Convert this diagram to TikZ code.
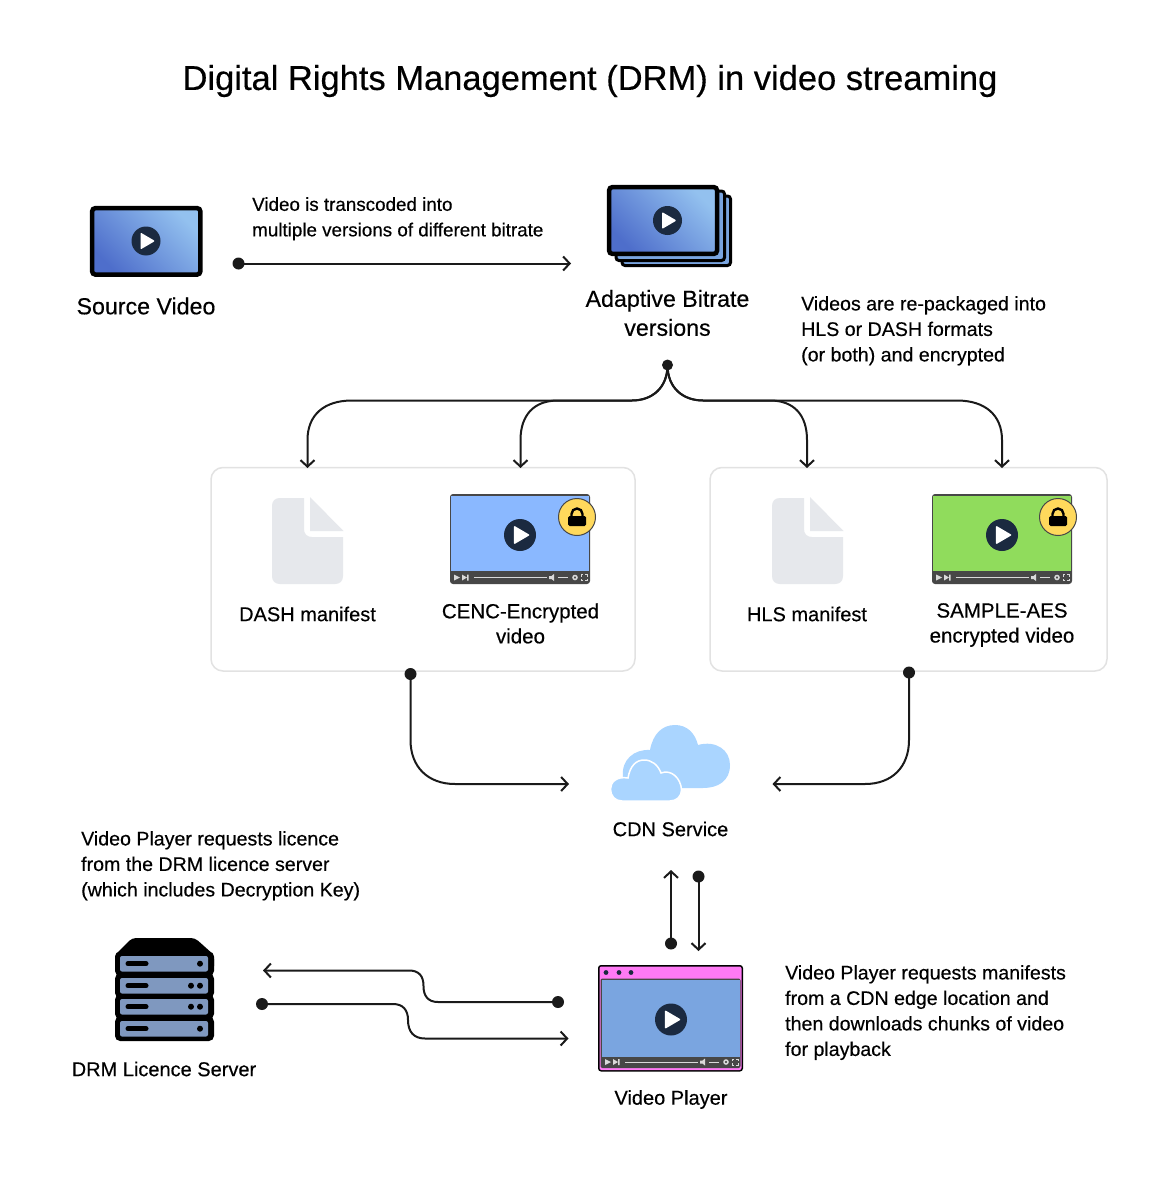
\documentclass[tikz,border=0pt]{standalone}
\usepackage{fontspec}
\setmainfont{Liberation Sans}[RawFeature={embolden=0.35}]
\usetikzlibrary{arrows.meta}
\definecolor{ink}{HTML}{1A1A1A}
\definecolor{playc}{HTML}{1B2A40}
\definecolor{gradlo}{HTML}{4E6ECB}
\definecolor{gradhi}{HTML}{93C1EF}
\definecolor{boxline}{HTML}{E2E2E2}
\definecolor{docgrey}{HTML}{E6E8EC}
\definecolor{cencblue}{HTML}{8AB8FF}
\definecolor{aesgreen}{HTML}{90DC5C}
\definecolor{barc}{HTML}{474747}
\definecolor{lockc}{HTML}{FFD95C}
\definecolor{cloudc}{HTML}{AAD5FF}
\definecolor{pinkc}{HTML}{FF7AF5}
\definecolor{playerblue}{HTML}{7AA5E0}
\definecolor{serverc}{HTML}{7F98BF}
\newcommand{\lbl}{\fontsize{23.2}{29}\selectfont}
\newcommand{\lblb}{\fontsize{20.5}{25}\selectfont}
\newcommand{\sml}{\fontsize{20}{25.6}\selectfont}
\newcommand{\nts}{\fontsize{19.6}{25.5}\selectfont}
\newcommand{\ntsb}{\fontsize{18.8}{25.5}\selectfont}
\newcommand{\ttl}{\fontsize{34.5}{40}\selectfont}
\tikzset{
  x=1pt,y=-1pt,
  flow/.style={draw=ink,line width=2pt,-{Straight Barb[length=6.5pt,width=14pt,line width=2pt]}},
  dotnode/.style={circle,fill=ink,inner sep=0pt,minimum size=12pt},
  label/.style={inner sep=0pt,align=center,text=black},
  note/.style={inner sep=0pt,align=left,anchor=north west,text=black},
  grad/.style={bottom color=gradlo,top color=gradhi,shading angle=-45},
  panel/.style={draw=boxline,line width=1.5pt,rounded corners=12pt,fill=white},
}
\newcommand{\playbtn}[3]{%
  \fill[playc] (#1,#2) circle[radius=#3];
  \begin{scope}[shift={(#1,#2)},scale=#3/14.5]
    \fill[white,rounded corners=1pt] (-5.5,-8.5) -- (9,0) -- (-5.5,8.5) -- cycle;
  \end{scope}}
\newcommand{\controls}[2]{%
  \begin{scope}[shift={(#1,#2)}]
    \fill[white!85!black] (4,-3) -- (10,0) -- (4,3) -- cycle;
    \fill[white!85!black] (12,-3) -- (17,0) -- (12,3) -- cycle (17,-3) rectangle (18.5,3);
    \draw[white!85!black,line width=1pt] (24,0) -- (97,0);
    \fill[white!85!black] (99,-1.5) -- (101.5,-1.5) -- (104,-3.5) -- (104,3.5) -- (101.5,1.5) -- (99,1.5) -- cycle;
    \draw[white!85!black,line width=1pt] (108,0) -- (118,0);
    \draw[white!85!black,line width=1.5pt] (125,0) circle[radius=2];
    \draw[white!85!black,line width=.7pt] (131,-1) -- (131,-3) -- (133,-3) (135,-3) -- (137,-3) -- (137,-1) (137,1) -- (137,3) -- (135,3) (133,3) -- (131,3) -- (131,1);
  \end{scope}}
\newcommand{\lockbadge}[2]{%
  \fill[lockc,draw=barc,line width=1pt] (#1,#2) circle[radius=18.5];
  \begin{scope}[shift={(#1,#2)}]
    \draw[black,line width=2.4pt] (-5.5,0) -- (-5.5,-3) arc[start angle=180,end angle=360,radius=5.5] -- (5.5,0);
    \fill[black,rounded corners=1.5pt] (-9,-1) rectangle (9,9);
  \end{scope}}
\newcommand{\encvideo}[3]{%
  \fill[barc,rounded corners=3pt] (#1,494) rectangle ++(140,90);
  \fill[#2] (#1+1.2,495.5) rectangle ++(137.6,75);
  \controls{#1}{577.5}
  \playbtn{#1+70}{535}{16}
  \lockbadge{#1+#3}{517}}
\newcommand{\docicon}[1]{%
  \begin{scope}[shift={(#1,0)}]
    \fill[docgrey] (280,498) -- (304,498) -- (304,529) .. controls (304,534) and (307,537) .. (312,537)
      -- (343,537) -- (343,576) .. controls (343,581) and (340,584) .. (335,584)
      -- (280,584) .. controls (275,584) and (272,581) .. (272,576)
      -- (272,506) .. controls (272,501) and (275,498) .. (280,498) -- cycle;
    \fill[docgrey] (310,497) -- (343.5,531) -- (310,531) -- cycle;
  \end{scope}}
\newcommand{\serverunit}[2]{%
  \fill[black,rounded corners=5pt] (115,#1-4.5) rectangle (214,#1+20);
  \fill[serverc,rounded corners=2pt] (120,#1) rectangle (208,#1+15.5);
  \draw[black,line width=5pt,line cap=round] (128,#1+7.7) -- (146,#1+7.7);
  \ifnum#2=2 \fill[black] (191,#1+7.7) circle[radius=3]; \fi
  \fill[black] (200,#1+7.7) circle[radius=3];}
\begin{document}
\begin{tikzpicture}
\useasboundingbox (0,0) rectangle (1163,1196);
\fill[white] (0,0) rectangle (1163,1196);

\node[label,font=\ttl] (title) at (590,81) {Digital Rights Management (DRM) in video streaming};

% panels
\path[panel] (211,467.5) rectangle (635,671);
\path[panel] (710,467.5) rectangle (1107,671);

% source video
\path[draw=black,line width=4.5pt,rounded corners=3pt,grad] (92.2,208.2) rectangle (200.3,274.5);
\playbtn{146}{241}{14.5}
\node[label,font=\lbl] (source) at (146,306) {Source Video};

% adaptive bitrate stack
\path[draw=black,line width=3pt,rounded corners=3pt,fill=playerblue] (622,196) rectangle (730.5,265.5);
\path[draw=black,line width=3pt,rounded corners=3pt,fill=playerblue] (616,191) rectangle (724.5,260.5);
\path[draw=black,line width=4.5pt,rounded corners=3pt,grad] (609.2,187.2) rectangle (717,253.8);
\playbtn{667.5}{220.5}{14.5}
\node[label,font=\lbl] (abr) at (667.5,313) {Adaptive Bitrate\\versions};

% notes
\node[note,font=\ntsb] (n1) at (252,197) {Video is transcoded into\\multiple versions of different bitrate};
\node[note,font=\nts] (n2) at (801,296) {Videos are re-packaged into\\HLS or DASH formats\\(or both) and encrypted};
\node[note,font=\nts] (n3) at (81,831) {Video Player requests licence\\from the DRM licence server\\(which includes Decryption Key)};
\node[note,font=\nts] (n4) at (785,965) {Video Player requests manifests\\from a CDN edge location and\\then downloads chunks of video\\for playback};

% packaged content
\docicon{0}
\docicon{500}
\encvideo{450}{cencblue}{127}
\encvideo{932}{aesgreen}{126}
\node[label,font=\sml] (dashl) at (307.5,614) {DASH manifest};
\node[label,font=\sml] (hlsl) at (807,614) {HLS manifest};
\node[label,font=\lblb] (cencl) at (520.5,623.5) {CENC-Encrypted\\video};
\node[label,font=\lblb] (aesl) at (1002,625) {SAMPLE-AES\\encrypted video};

% cloud
\fill[cloudc] (623,777) .. controls (621,760) and (634,749) .. (650,750)
  .. controls (653,734) and (662,725) .. (675,725)
  .. controls (687,725) and (695,733) .. (698,745)
  .. controls (716,740) and (730,750) .. (730,765)
  .. controls (730,781) and (718,788) .. (703,788) -- (670,788) -- cycle;
\fill[cloudc,draw=white,line width=1.5pt] (628,778) .. controls (630,766) and (636,760) .. (644,760)
  .. controls (652,760) and (658,765) .. (661,773)
  .. controls (671,769) and (681,778) .. (681.5,790)
  .. controls (681.5,796) and (677,801) .. (670,801) -- (622,801)
  .. controls (615,801) and (610.5,796) .. (610.5,789)
  .. controls (610.5,782) and (617,776) .. (628,778) -- cycle;
\node[label,font=\sml] (cdn) at (670.5,829) {CDN Service};

% player
\fill[black,rounded corners=3pt] (598,965) rectangle (743,1071.5);
\fill[pinkc,rounded corners=2pt] (599.5,966.5) rectangle (741.5,1070);
\fill[barc,rounded corners=2pt] (600.5,978.5) rectangle (740.5,1068);
\fill[playerblue] (601.5,980) rectangle (739.5,1056.5);
\fill[playc] (606,972.5) circle[radius=2.4] (619,972.5) circle[radius=2.4] (631,972.5) circle[radius=2.4];
\controls{601}{1062}
\playbtn{671}{1019.5}{16}
\node[label,font=\sml] (player) at (671,1099.5) {Video Player};

% server
\fill[black,rounded corners=4pt] (132,938) -- (195,938) -- (214,955) -- (214,970) -- (115,970) -- (115,955) -- cycle;
\serverunit{956}{1}
\serverunit{978}{2}
\serverunit{999}{2}
\serverunit{1021}{1}
\node[label,font=\sml] (drm) at (164,1069) {DRM Licence Server};

% connector ends
\node[dotnode] (d1) at (238.5,263.5) {};
\coordinate (a1) at (571,263.5);
\node[dotnode,minimum size=11pt] (d2) at (667.5,365) {};
\coordinate (a2) at (307.5,468);
\coordinate (a3) at (520.5,468);
\coordinate (a4) at (807,468);
\coordinate (a5) at (1002,468);
\node[dotnode] (d3) at (410.5,674) {};
\coordinate (a6) at (569,784);
\node[dotnode] (d4) at (909,672.5) {};
\coordinate (a7) at (772.5,784);
\node[dotnode] (d5) at (671,943.5) {};
\coordinate (a8) at (671,870);
\node[dotnode] (d6) at (698.5,876.5) {};
\coordinate (a9) at (698.5,951);
\node[dotnode] (d7) at (558,1002) {};
\coordinate (a10) at (263,970.5);
\node[dotnode] (d8) at (262,1004) {};
\coordinate (a11) at (568.5,1038.5);

% connectors
\draw[flow] (d1.center) -- (a1);
\draw[flow] (d2.center) .. controls (667.5,388) and (652,400.5) .. (632,400.5) -- (352,400.5)
  .. controls (324,400.5) and (307.5,415) .. (307.5,440) -- (a2);
\draw[flow] (d2.center) .. controls (667.5,388) and (652,400.5) .. (632,400.5) -- (558,400.5)
  .. controls (534,400.5) and (520.5,415) .. (520.5,440) -- (a3);
\draw[flow] (d2.center) .. controls (667.5,388) and (683,400.5) .. (703,400.5) -- (770,400.5)
  .. controls (794,400.5) and (807,415) .. (807,440) -- (a4);
\draw[flow] (d2.center) .. controls (667.5,388) and (683,400.5) .. (703,400.5) -- (957,400.5)
  .. controls (985,400.5) and (1002,415) .. (1002,440) -- (a5);
\draw[flow] (d3.center) -- (410.5,740) .. controls (410.5,767) and (428,784) .. (455,784) -- (a6);
\draw[flow] (d4.center) -- (909,740) .. controls (909,767) and (892,784) .. (865,784) -- (a7);
\draw[flow] (d5.center) -- (a8);
\draw[flow] (d6.center) -- (a9);
\draw[flow] (d7.center) -- (438,1002) .. controls (428,1002) and (423.5,996) .. (423.5,986)
  .. controls (423.5,976) and (419,970.5) .. (409,970.5) -- (a10);
\draw[flow] (d8.center) -- (393,1004) .. controls (403,1004) and (408,1010) .. (408,1020)
  .. controls (408,1032) and (414,1038.5) .. (425,1038.5) -- (a11);
\end{tikzpicture}
\end{document}
